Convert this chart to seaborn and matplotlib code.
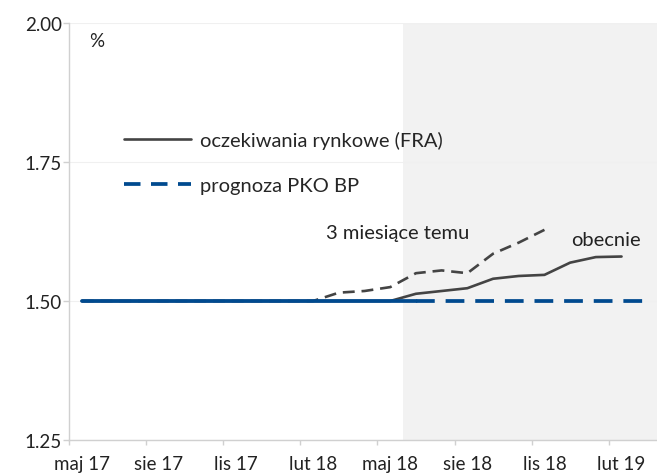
import matplotlib
matplotlib.use("Agg")
import matplotlib.pyplot as plt
from matplotlib.lines import Line2D
import seaborn as sns
import pandas as pd
import numpy as np

months = ["maj 17", "cze 17", "lip 17", "sie 17", "wrz 17", "paź 17", "lis 17", "gru 17",
          "sty 18", "lut 18", "mar 18", "kwi 18", "maj 18", "cze 18", "lip 18", "sie 18",
          "wrz 18", "paź 18", "lis 18", "gru 18", "sty 19", "lut 19", "mar 19"]
tick_labels = ["maj 17", "sie 17", "lis 17", "lut 18", "maj 18", "sie 18", "lis 18", "lut 19"]

fra_now = [1.50, 1.50, 1.50, 1.50, 1.50, 1.50, 1.50, 1.50, 1.50, 1.50, 1.50, 1.50, 1.50,
           1.513, 1.518, 1.523, 1.540, 1.545, 1.547, 1.569, 1.579, 1.580]
fra_3m = [1.50, 1.50, 1.50, 1.50, 1.50, 1.50, 1.50, 1.50, 1.50, 1.50, 1.515, 1.518, 1.525,
          1.550, 1.555, 1.550, 1.585, 1.605, 1.628]
pko_actual = [1.50] * 14    # maj 17 .. cze 18
pko_forecast = [1.50] * 10  # cze 18 .. mar 19
forecast_start = 13
shade_start = 12.5

sns.set_theme(style="white")
plt.rcParams["font.family"] = ["Lato", "DejaVu Sans"]

fig = plt.figure(figsize=(6.57, 4.77), dpi=100)
W, H = 657, 477
left, right, bottom, top = 69, 657, 36, 453
ax = fig.add_axes([left / W, bottom / H, (right - left) / W, (top - bottom) / H])

GRAY = "#444444"
BLUE = "#004a8f"
TXT = "#222222"

x_all = np.arange(len(months))
ax.axvspan(shade_start, 30, color="#f2f2f2", zorder=0, lw=0)

df_now = pd.DataFrame({"x": x_all[:len(fra_now)], "y": fra_now})
df_3m = pd.DataFrame({"x": x_all[:len(fra_3m)], "y": fra_3m})
df_pa = pd.DataFrame({"x": x_all[:len(pko_actual)], "y": pko_actual})
df_pf = pd.DataFrame({"x": x_all[forecast_start:forecast_start + len(pko_forecast)], "y": pko_forecast})

sns.lineplot(data=df_3m, x="x", y="y", ax=ax, color=GRAY, lw=1.9, zorder=3)
ax.lines[-1].set_dashes((4.5, 2.6))
sns.lineplot(data=df_now, x="x", y="y", ax=ax, color=GRAY, lw=1.9, zorder=3)
sns.lineplot(data=df_pf, x="x", y="y", ax=ax, color=BLUE, lw=2.7, zorder=4)
ax.lines[-1].set_dashes((5.0, 2.9))
sns.lineplot(data=df_pa, x="x", y="y", ax=ax, color=BLUE, lw=2.7, zorder=5)

ax.set_xlim(-0.5, -0.5 + (right - left) / 25.7)
ax.set_ylim(1.25, 2.00)
ax.set_yticks([1.25, 1.50, 1.75, 2.00])
ax.set_yticklabels(["1.25", "1.50", "1.75", "2.00"])
ax.set_xticks([months.index(t) for t in tick_labels])
ax.set_xticklabels(tick_labels)
ax.set_xticks(np.arange(-0.5, 23, 3), minor=True)
ax.set_xlabel("")
ax.set_ylabel("")

ax.grid(axis="y", color="#f0f0f0", lw=0.8, zorder=1)
ax.grid(axis="x", visible=False)
for s in ["top", "right"]:
    ax.spines[s].set_visible(False)
for s in ["left", "bottom"]:
    ax.spines[s].set_color("#d0d0d0")
    ax.spines[s].set_linewidth(1.0)

ax.tick_params(axis="x", which="major", length=0, labelsize=13.5, colors=TXT, pad=11)
ax.tick_params(axis="x", which="minor", length=3.6, width=1, color="#d0d0d0", direction="out", bottom=True)
ax.tick_params(axis="y", which="major", length=4.3, width=1, color="#d0d0d0", direction="out",
               labelsize=13.5, labelcolor=TXT, pad=0.8, left=True)

ax.text(0.58, 1.968, "%", fontsize=13.5, color=TXT, ha="center", va="center")
ax.text(9.5, 1.624, "3 miesiące temu", fontsize=14.5, color=TXT, ha="left", va="center")
ax.text(19.05, 1.61, "obecnie", fontsize=14.5, color=TXT, ha="left", va="center")

handles = [Line2D([0], [0], color=GRAY, lw=1.9),
           Line2D([0], [0], color=BLUE, lw=2.7, dashes=(4.4, 2.8))]
ax.legend(handles, ["oczekiwania rynkowe (FRA)", "prognoza PKO BP"], loc="upper left",
          bbox_to_anchor=(0.076, 0.765), frameon=False, fontsize=14.5, handlelength=3.35,
          handletextpad=0.45, labelspacing=1.4, borderpad=0)

fig.savefig("out.png", dpi=100)
